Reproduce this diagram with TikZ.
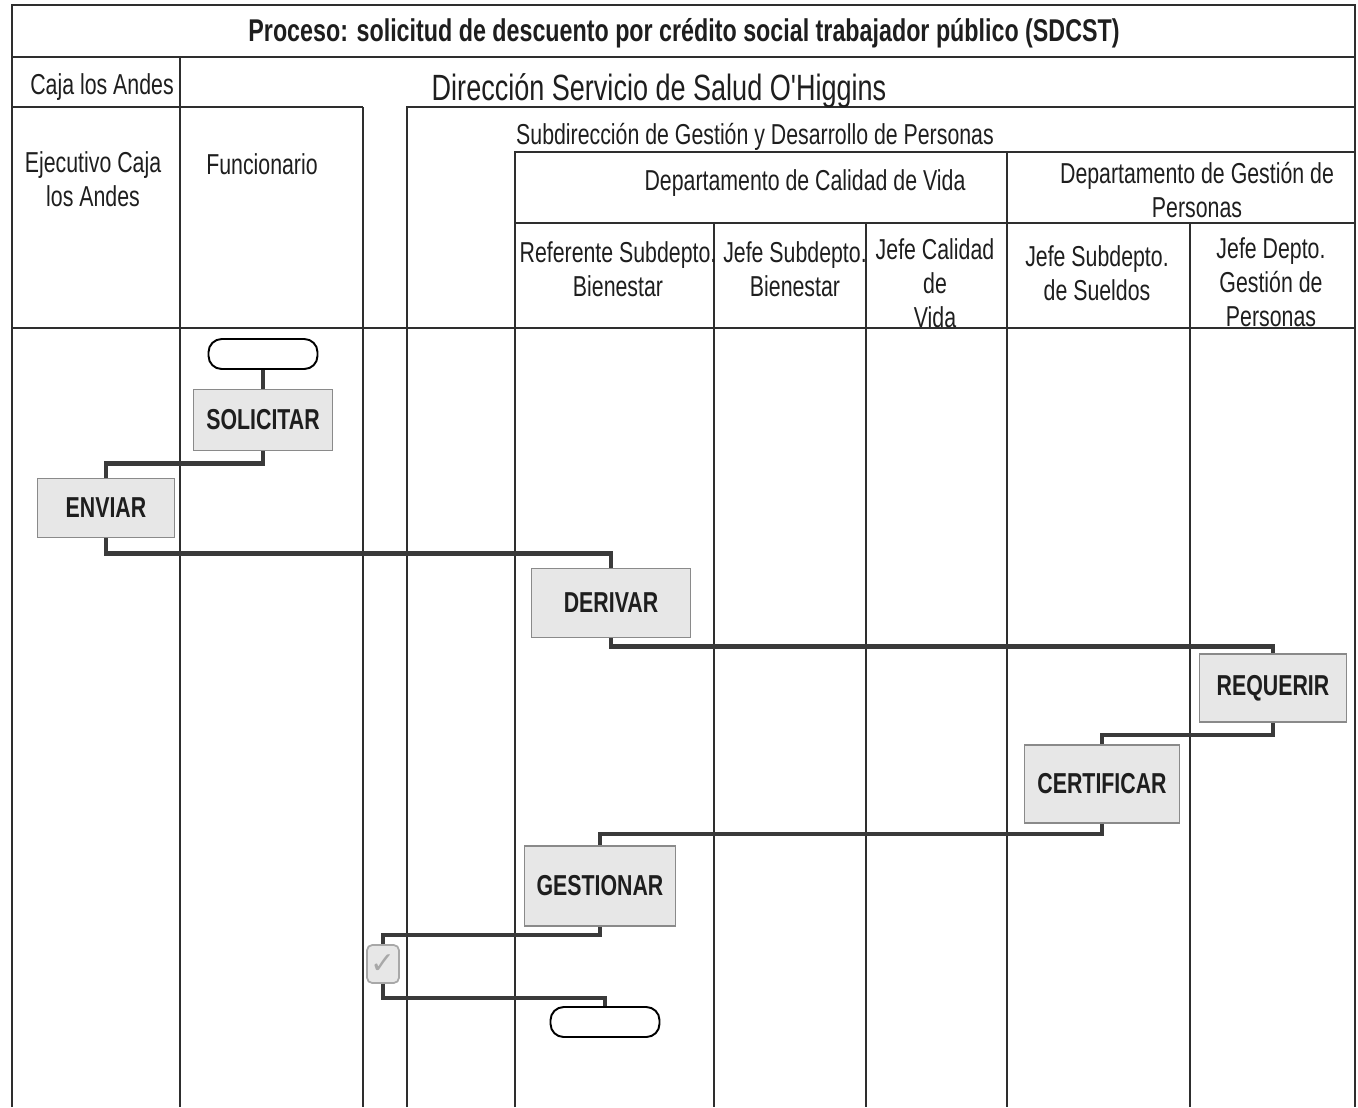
\documentclass[tikz,border=0pt]{standalone}
\usepackage{fontspec}
\setmainfont[FakeStretch=0.74]{Liberation Sans}
\newfontfamily\symfont{DejaVu Sans}
\usepackage{xcolor}
\definecolor{ink}{HTML}{1E1E1E}
\definecolor{rule}{HTML}{2E2E2E}
\definecolor{flow}{HTML}{3A3A3A}
\definecolor{boxfill}{HTML}{E7E7E7}
\definecolor{boxline}{HTML}{8A8A8A}
\definecolor{checkline}{HTML}{A8A8A8}
\usepackage{tikz}
\usetikzlibrary{positioning}

\begin{document}
\begin{tikzpicture}[x=0.02cm,y=-0.02cm,
  frame/.style={rule,line width=0.8pt},
  hdr/.style={text=ink,align=center,font=\fontsize{16.4}{19.2}\selectfont,inner sep=0pt},
  flowline/.style={flow,line width=2.3pt,line join=miter},
  task/.style n args={2}{rectangle,draw=boxline,fill=boxfill,line width=1.1pt,
    minimum width=#1*0.02cm,minimum height=#2*0.02cm,inner sep=0pt,
    text=ink,font=\fontsize{16.4}{19}\selectfont\bfseries},
  term/.style={rectangle,rounded corners=7.5pt,draw=black,fill=white,line width=1.1pt,
    minimum width=109*0.02cm,minimum height=30*0.02cm,inner sep=0pt}]
  \useasboundingbox (0,0) rectangle (1358,1107);
  % pools and lanes
  \draw[frame] (12,1107) -- (12,5) -- (1355,5) -- (1355,1107);
  \draw[frame] (12,57) -- (1355,57);
  \draw[frame] (12,107) -- (363,107);
  \draw[frame] (180,57) -- (180,1107);
  \draw[frame] (363,107) -- (363,1107);
  \draw[frame] (407,1107) -- (407,107) -- (1355,107);
  \draw[frame] (515,1107) -- (515,152) -- (1355,152);
  \draw[frame] (515,223) -- (1355,223);
  \draw[frame] (1007,152) -- (1007,1107);
  \foreach \x in {714,866,1190} \draw[frame] (\x,223) -- (\x,1107);
  \draw[frame] (12,328) -- (1355,328);
  % headers
  \node[hdr,font=\fontsize{17.9}{21}\selectfont\bfseries] (title) at (684,33) {Proceso: solicitud de descuento por crédito social trabajador público (SDCST)};
  \node[hdr] (caja) at (102,87) {Caja los Andes};
  \node[hdr,font=\fontsize{20.8}{24}\selectfont] (direccion) at (659,91) {Dirección Servicio de Salud O{\addfontfeature{Ligatures=TeXOff}'}Higgins};
  \node[hdr] (subdir) at (755,137) {Subdirección de Gestión y Desarrollo de Personas};
  \node[hdr] (calidad) at (805,183) {Departamento de Calidad de Vida};
  \node[hdr] (gestionp) at (1197,190) {Departamento de Gestión de\\Personas};
  \node[hdr] (ejecutivo) at (93,179) {Ejecutivo Caja\\los Andes};
  \node[hdr] (funcionario) at (262,164) {Funcionario};
  \node[hdr] (refbien) at (618,269) {Referente Subdepto.\\Bienestar};
  \node[hdr] (jefebien) at (795,269) {Jefe Subdepto.\\Bienestar};
  \node[hdr] (jefecal) at (935,283) {Jefe Calidad\\de\\Vida};
  \node[hdr] (jefesuel) at (1097,273) {Jefe Subdepto.\\de Sueldos};
  \node[hdr] (jefegest) at (1271,282) {Jefe Depto.\\Gestión de\\Personas};
  % activities
  \node[term] (start) at (263,354) {};
  \node[task={139}{61}] (solicitar) at (263,420) {SOLICITAR};
  \node[task={137}{59}] (enviar) at (106,508) {ENVIAR};
  \node[task={159}{69}] (derivar) at (611,603) {DERIVAR};
  \node[task={147}{68}] (requerir) at (1273,688) {REQUERIR};
  \node[task={155}{78}] (certificar) at (1102,784) {CERTIFICAR};
  \node[task={151}{80}] (gestionar) at (600,886) {GESTIONAR};
  \node[rectangle,rounded corners=3pt,draw=checkline,fill=boxfill,line width=1pt,
    minimum width=32*0.02cm,minimum height=38*0.02cm,inner sep=0pt,
    text=checkline,font=\symfont\fontsize{17}{17}\selectfont] (check) at (383,964) {✓};
  \node[term] (finish) at (605,1022) {};
  % sequence flows
  \draw[flowline] (start.south) -- (solicitar.north);
  \draw[flowline] (solicitar.south) -- ++(0,12) -| (enviar.north);
  \draw[flowline] (enviar.south) -- ++(0,15) -| (derivar.north);
  \draw[flowline] (derivar.south) -- ++(0,8) -| (requerir.north);
  \draw[flowline] (requerir.south) -- ++(0,12) -| (certificar.north);
  \draw[flowline] (certificar.south) -- ++(0,10) -| (gestionar.north);
  \draw[flowline] (gestionar.south) -- ++(0,8) -| (check.north);
  \draw[flowline] (check.south) -- ++(0,14) -| (finish.north);
\end{tikzpicture}
\end{document}
